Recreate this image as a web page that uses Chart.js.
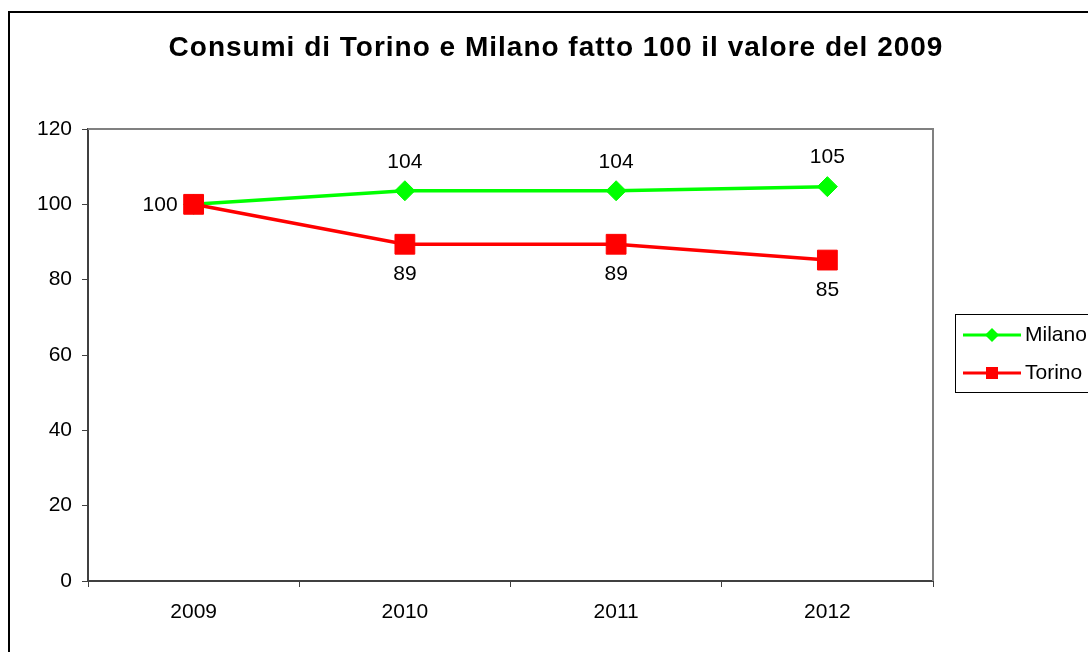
<!DOCTYPE html>
<html>
<head>
<meta charset="utf-8">
<script src="https://cdn.jsdelivr.net/npm/chart.js@4/dist/chart.umd.min.js"></script>
<style>
  html, body { margin: 0; padding: 0; background: #fff; }
  #wrap { width: 1088px; height: 652px; }
</style>
</head>
<body>
<div id="wrap"><canvas id="chart"></canvas></div>
<script>
// dati
var Anni = ["2009", "2010", "2011", "2012"];
var Milano = [100, 103.6, 103.6, 104.7];
var Torino = [100, 89.4, 89.4, 85.2];
var Titolo = "Consumi di Torino e Milano fatto 100 il valore del 2009";
var FONT = "Arial, 'Liberation Sans', sans-serif";

// cornice esterna, bordo grigio del plot, titolo, etichette dati e legenda
var extras = {
  id: "extras",
  beforeDraw: function(chart) {
    var ctx = chart.ctx;
    ctx.save();
    ctx.fillStyle = "#fff";
    ctx.fillRect(0, 0, chart.width, chart.height);
    ctx.strokeStyle = "#000";
    ctx.lineWidth = 2;
    ctx.strokeRect(9, 12, 1200, 1000);
    ctx.restore();
  },
  beforeDatasetsDraw: function(chart) {
    var ctx = chart.ctx, a = chart.chartArea;
    ctx.save();
    ctx.strokeStyle = "#808080";
    ctx.lineWidth = 2;
    ctx.beginPath();
    ctx.moveTo(a.left, a.top);
    ctx.lineTo(a.right, a.top);
    ctx.lineTo(a.right, a.bottom);
    ctx.stroke();
    ctx.restore();
  },
  afterDraw: function(chart) {
    var ctx = chart.ctx;
    ctx.save();
    // titolo
    ctx.fillStyle = "#000";
    ctx.font = "bold 28px " + FONT;
    ctx.textAlign = "center";
    ctx.textBaseline = "middle";
    ctx.letterSpacing = "1px";
    ctx.fillText(Titolo, 556, 48);
    ctx.letterSpacing = "0px";

    // etichette dati
    ctx.font = "21px " + FONT;
    chart.data.datasets.forEach(function(ds, di) {
      var meta = chart.getDatasetMeta(di);
      meta.data.forEach(function(pt, i) {
        var txt = String(Math.round(ds.data[i]));
        if (di === 0) {
          if (i === 0) {
            ctx.textAlign = "right";
            ctx.fillText(txt, pt.x - 16, pt.y + 1);
          } else {
            ctx.textAlign = "center";
            ctx.fillText(txt, pt.x, pt.y - 29);
          }
        } else if (i > 0) {
          ctx.textAlign = "center";
          ctx.fillText(txt, pt.x, pt.y + 30);
        }
      });
    });

    // legenda
    ctx.strokeStyle = "#000";
    ctx.lineWidth = 1;
    ctx.strokeRect(955.5, 314.5, 200, 78);
    var rows = [335, 373];
    chart.data.datasets.forEach(function(ds, di) {
      var y = rows[di];
      ctx.strokeStyle = ds.borderColor;
      ctx.lineWidth = 3;
      ctx.beginPath();
      ctx.moveTo(963, y);
      ctx.lineTo(1021, y);
      ctx.stroke();
      ctx.fillStyle = ds.borderColor;
      ctx.beginPath();
      if (ds.pointStyle === "rectRot") {
        ctx.moveTo(992, y - 7);
        ctx.lineTo(999, y);
        ctx.lineTo(992, y + 7);
        ctx.lineTo(985, y);
      } else {
        ctx.rect(986, y - 6, 12, 12);
      }
      ctx.closePath();
      ctx.fill();
      ctx.fillStyle = "#000";
      ctx.font = "21px " + FONT;
      ctx.textAlign = "left";
      ctx.textBaseline = "middle";
      ctx.fillText(ds.label, 1025, y);
    });
    ctx.restore();
  }
};

new Chart(document.getElementById("chart"), {
  type: "line",
  data: {
    labels: Anni,
    datasets: [
      {
        label: "Milano",
        data: Milano,
        order: 1,
        borderColor: "#00FF00",
        backgroundColor: "#00FF00",
        borderWidth: 3.5,
        pointStyle: "rectRot",
        pointRadius: 10,
        pointBorderWidth: 1,
        tension: 0
      },
      {
        label: "Torino",
        data: Torino,
        order: 0,
        borderColor: "#FF0000",
        backgroundColor: "#FF0000",
        borderWidth: 3.5,
        pointStyle: "rect",
        pointRadius: 14,
        pointBorderWidth: 1,
        tension: 0
      }
    ]
  },
  options: {
    responsive: true,
    maintainAspectRatio: false,
    animation: false,
    events: [],
    layout: { padding: { left: 10, right: 155, top: 129, bottom: 31 } },
    plugins: {
      legend: { display: false },
      title: { display: false },
      tooltip: { enabled: false }
    },
    scales: {
      x: {
        offset: true,
        grid: { offset: true, drawOnChartArea: false, drawTicks: true, tickLength: 6, color: "#404040", lineWidth: 1 },
        border: { color: "#404040", width: 2 },
        ticks: { color: "#000", font: { family: FONT, size: 21 }, padding: 13 },
        afterFit: function(s) { s.height = 40; }
      },
      y: {
        min: 0,
        max: 120,
        grid: { drawOnChartArea: false, drawTicks: true, tickLength: 6, color: "#404040", lineWidth: 1 },
        border: { color: "#404040", width: 2 },
        ticks: { stepSize: 20, color: "#000", font: { family: FONT, size: 21 }, padding: 10 },
        afterFit: function(s) { s.width = 78; }
      }
    }
  },
  plugins: [extras]
});
</script>
</body>
</html>
